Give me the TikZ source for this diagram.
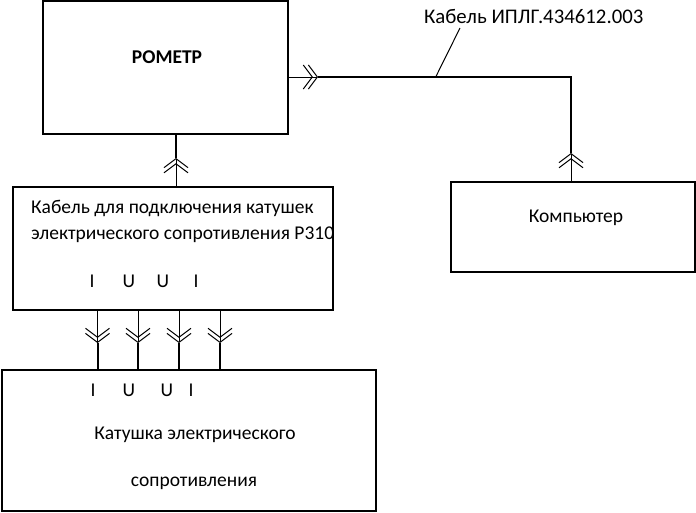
\documentclass[tikz,border=0pt]{standalone}
\usepackage{fontspec}
\setmainfont{Carlito}
\usetikzlibrary{arrows.meta}
\tikzset{
  box/.style={draw=black,line width=2pt,rectangle,inner sep=0pt,outer sep=0pt,anchor=north west},
  lbl/.style={inner sep=0pt,font=\fontsize{19.5}{19.5}\selectfont,text=black},
  thinl/.style={line width=1pt},
  thickl/.style={line width=2pt},
  dbl/.style={-{Straight Barb[length=9pt,width=24pt,sep=-5pt]Straight Barb[length=9pt,width=24pt]}}
}
\begin{document}
\begin{tikzpicture}[x=1pt,y=-1pt]
\useasboundingbox (0,0) rectangle (696,512);
\node[box,minimum width=244.7pt,minimum height=133pt] (rom) at (43.3,1) {};
\node[box,minimum width=320pt,minimum height=123pt] (cab) at (12.7,187) {};
\node[box,minimum width=244.3pt,minimum height=90pt] (pc) at (450.7,181.7) {};
\node[box,minimum width=374.3pt,minimum height=141pt] (coil) at (1.7,369.5) {};
\node[lbl,font=\fontsize{19.5}{19.5}\selectfont\bfseries] (t1) at (167,57) {РОМЕТР};
\node[lbl,anchor=base west,font=\fontsize{20.8}{20.8}\selectfont] (t2) at (424,23) {Кабель ИПЛГ.434612.003};
\node[lbl] (t3) at (576,218) {Компьютер};
\node[lbl,anchor=base west] (t4) at (31,213) {Кабель для подключения катушек};
\node[lbl,anchor=base west] (t5) at (31,239) {электрического сопротивления Р310};
\node[lbl] (i1) at (92,281) {I};
\node[lbl] (u1) at (129,281) {U};
\node[lbl] (u2) at (163,281) {U};
\node[lbl] (i2) at (196,281) {I};
\node[lbl] (i3) at (93,390) {I};
\node[lbl] (u3) at (129,390) {U};
\node[lbl] (u4) at (167,390) {U};
\node[lbl] (i4) at (191,390) {I};
\node[lbl] (t6) at (195,435) {Катушка электрического};
\node[lbl] (t7) at (194,483) {сопротивления};
% connectors
\coordinate (a1) at (318,77);
\coordinate (c1) at (571,77);
\coordinate (a2) at (571,153);
\coordinate (a3) at (176,158);
\coordinate (j1) at (435.7,77);
\coordinate (j2) at (460,28);
\coordinate (b1) at (97.5,343);
\coordinate (b2) at (138,343);
\coordinate (b3) at (179,343);
\coordinate (b4) at (220,343);
\draw[thinl,dbl] (rom.east |- a1) -- (a1);
\draw[thickl] (a1) -- (c1) -- (a2);
\draw[thinl,dbl] (pc.north -| a2) -- (a2);
\draw[thinl,dbl] (cab.north -| a3) -- (a3);
\draw[thickl] (a3) -- (rom.south -| a3);
\draw[thinl] (j1) -- (j2);
\foreach \b in {b1,b2,b3,b4}{
  \draw[thinl,dbl] (cab.south -| \b) -- (\b);
  \draw[thickl] (\b) -- (coil.north -| \b);
}
\end{tikzpicture}
\end{document}
